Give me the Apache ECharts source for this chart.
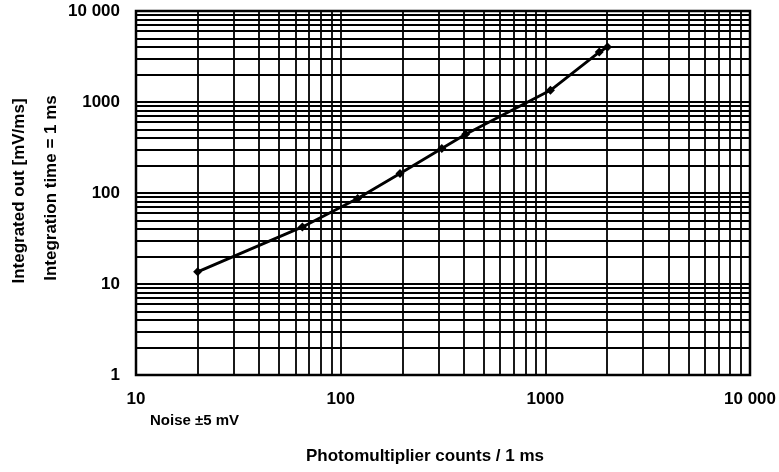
<!DOCTYPE html>
<html>
<head>
<meta charset="utf-8">
<script src="https://cdn.jsdelivr.net/npm/echarts@6/dist/echarts.min.js"></script>
<style>
  html, body { margin: 0; padding: 0; background: #fff; }
  #chart { width: 779px; height: 472px; }
</style>
</head>
<body>
<div id="chart"></div>
<script>
// Photomultiplier counts per 1 ms vs. integrated output (log-log)
const counts = [20, 65, 121, 195, 312, 408, 1059, 1834, 2013];
const integratedOut = [13.6, 42.4, 87, 164, 308, 442, 1344, 3540, 4016];

const xTickValues = [10, 100, 1000, 10000];
const xTickLabels = ['10', '100', '1000', '10 000'];
const yTickValues = [1, 10, 100, 1000, 10000];
const yTickLabels = ['1', '10', '100', '1000', '10 000'];

const FONT = '"Liberation Sans", Arial, Helvetica, sans-serif';

// log-paper rulings: every 1..9 multiple inside each decade
function rulings(first, last) {
  const out = [];
  for (let d = first; d < last; d *= 10) {
    for (let k = 1; k <= 9; k++) {
      const v = k * d;
      if (v > first && v < last) out.push(v);
    }
  }
  return out;
}
const xRulings = rulings(10, 10000);
const yRulings = rulings(1, 10000);

function labelFor(values, labels) {
  return function (v) {
    for (let i = 0; i < values.length; i++) {
      if (Math.abs(v - values[i]) / values[i] < 1e-6) return labels[i];
    }
    return '';
  };
}

const chart = echarts.init(document.getElementById('chart'), null, { renderer: 'canvas' });

chart.setOption({
  animation: false,
  backgroundColor: '#fff',
  grid: {
    left: 136, right: 27, top: 11, bottom: 97,
    show: true, borderColor: '#000', borderWidth: 2.5, backgroundColor: 'transparent'
  },
  xAxis: {
    type: 'log', logBase: 10, min: 10, max: 10000,
    axisLine: { show: false },
    axisTick: { show: false },
    splitLine: { show: false },
    minorTick: { show: false },
    axisLabel: {
      margin: 16, color: '#000', fontFamily: FONT, fontWeight: 'bold', fontSize: 17,
      formatter: labelFor(xTickValues, xTickLabels)
    }
  },
  yAxis: {
    type: 'log', logBase: 10, min: 1, max: 10000,
    axisLine: { show: false },
    axisTick: { show: false },
    splitLine: { show: false },
    axisLabel: {
      margin: 16, color: '#000', fontFamily: FONT, fontWeight: 'bold', fontSize: 17,
      formatter: labelFor(yTickValues, yTickLabels)
    }
  },
  series: [
    {
      // grid rulings
      type: 'line',
      data: [],
      silent: true,
      markLine: {
        silent: true,
        symbol: ['none', 'none'],
        animation: false,
        label: { show: false },
        lineStyle: { color: '#000', width: 1.8, type: 'solid' },
        emphasis: { disabled: true },
        data: xRulings.map(v => ({ xAxis: v })).concat(yRulings.map(v => ({ yAxis: v })))
      }
    },
    {
      type: 'line',
      data: counts.map((c, i) => [c, integratedOut[i]]),
      symbol: 'diamond',
      symbolSize: 9,
      lineStyle: { color: '#000', width: 2.8 },
      itemStyle: { color: '#000' },
      z: 5
    }
  ],
  graphic: [
    {
      type: 'text', left: 150, top: 413,
      style: { text: 'Noise ±5 mV', fill: '#000', font: 'bold 15px ' + FONT }
    },
    {
      type: 'text', x: 425, y: 456,
      style: {
        text: 'Photomultiplier counts / 1 ms', fill: '#000',
        font: 'bold 17px ' + FONT, align: 'center', verticalAlign: 'middle'
      }
    },
    {
      type: 'text', x: 19, y: 191, rotation: Math.PI / 2,
      style: {
        text: 'Integrated out [mV/ms]', fill: '#000',
        font: 'bold 17px ' + FONT, align: 'center', verticalAlign: 'middle'
      }
    },
    {
      type: 'text', x: 51, y: 188, rotation: Math.PI / 2,
      style: {
        text: 'Integration time = 1 ms', fill: '#000',
        font: 'bold 17px ' + FONT, align: 'center', verticalAlign: 'middle'
      }
    }
  ]
});
</script>
</body>
</html>
